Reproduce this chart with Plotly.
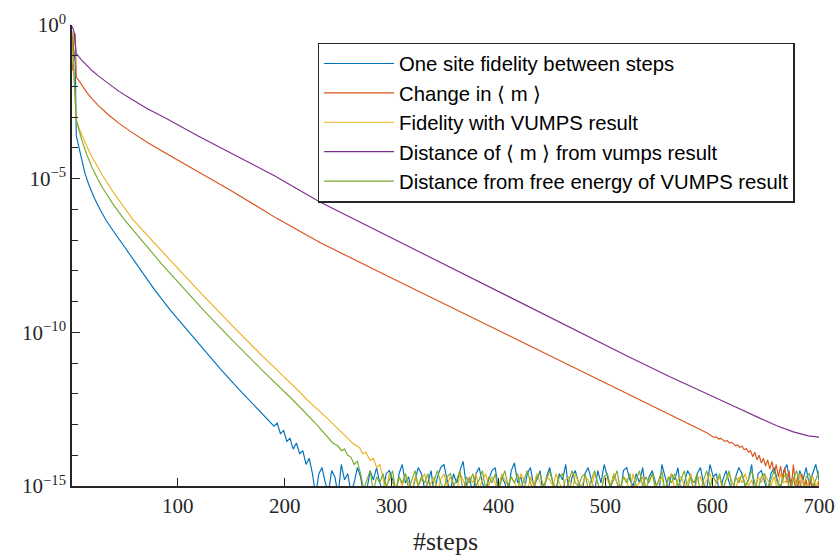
import plotly.graph_objects as go

# ---------------- data (log10 of the plotted quantity) ----------------
# One site fidelity between steps (blue)
blue_steps = [1, 2, 3, 4, 5, 6, 8, 10, 13, 17, 22, 27, 33, 40, 50, 65, 78, 93, 110, 125, 140, 157,
              168, 176, 184, 190, 193, 196, 199, 202, 205, 208, 211, 214, 217, 220, 223, 226]
blue_log = [-0.35, -0.7, -1.0, -1.2, -3.6, -3.75, -4.12, -4.43, -4.81, -5.22, -5.64, -5.99, -6.36,
            -6.72, -7.22, -7.96, -8.6, -9.28, -9.98, -10.6, -11.2, -11.85, -12.25, -12.55, -12.81,
            -13.05, -12.95, -13.3, -13.2, -13.55, -13.45, -13.8, -13.6, -13.95, -13.85, -14.3,
            -14.1, -14.6]
blue_floor_steps = list(range(229, 701, 3))
blue_floor_log = [
    -15.3, -14.6, -14.4, -14.9, -15.2, -14.5, -14.7, -15.3, -14.3, -14.8,
    -14.6, -15.2, -14.9, -14.4, -14.7, -15.3, -15.1, -14.5, -14.8, -14.4,
    -14.9, -15.2, -14.6, -14.5, -14.8, -15.3, -14.6, -14.3, -14.9, -14.7,
    -15.2, -14.8, -14.4, -14.6, -15.1, -14.9, -14.5, -15.3, -14.7, -14.4,
    -14.3, -14.8, -15.2, -14.6, -14.9, -14.5, -14.2, -15.0, -14.7, -15.3,
    -14.6, -14.4, -14.9, -15.2, -14.8, -14.5, -14.4, -15.1, -14.7, -14.9,
    -15.3, -14.5, -14.25, -14.9, -14.7, -15.2, -14.6, -14.4, -15.0, -14.8,
    -14.5, -15.3, -14.7, -14.4, -14.9, -15.1, -14.6, -14.8, -14.3, -15.2,
    -14.7, -14.5, -14.9, -15.3, -14.6, -14.4, -14.8, -15.2, -14.5, -14.9,
    -14.3, -14.7, -15.1, -14.6, -14.9, -15.3, -14.5, -14.4, -14.8, -15.0,
    -14.6, -14.9, -14.4, -15.2, -14.7, -14.5, -14.9, -15.3, -14.3, -14.7,
    -15.1, -14.6, -14.8, -14.4, -15.3, -14.9, -14.5, -14.7, -15.2, -14.6,
    -14.4, -14.9, -15.1, -14.3, -14.7, -14.6, -15.3, -14.8, -14.5, -14.9,
    -15.2, -14.7, -14.4, -14.6, -15.0, -14.8, -14.3, -15.3, -14.6, -14.5,
    -14.9, -15.2, -14.6, -14.4, -14.8, -15.1, -14.5, -14.3, -14.9, -14.7,
    -15.2, -14.5, -14.8, -14.4, -15.0, -14.6, -14.3, -14.8]

# Change in <m> (orange)
orange_steps = [1, 2, 3, 4, 5, 10, 15, 20, 25, 35, 45, 56, 72, 88, 119, 150, 193, 233, 300,
                350, 400, 457, 477, 520, 560, 595]
orange_log = [-1.5, -1.2, -0.25, -0.3, -1.69, -1.96, -2.2, -2.41, -2.6, -2.92, -3.2, -3.47, -3.83,
              -4.16, -4.78, -5.39, -6.3, -7.08, -8.23, -9.08, -9.94, -10.92, -11.26, -11.99,
              -12.67, -13.27]
orange_tail_steps = list(range(600, 701, 2))
orange_tail_log = [
    -13.38, -13.42, -13.4, -13.47, -13.45, -13.5, -13.55, -13.52, -13.6, -13.58,
    -13.62, -13.7, -13.66, -13.75, -13.7, -13.82, -13.78, -13.9, -13.85, -14.05,
    -13.9, -14.15, -14.0, -14.25, -14.1, -14.35, -14.15, -14.45, -14.2, -14.6,
    -14.3, -14.7, -14.35, -14.8, -14.4, -14.9, -14.5, -15.1, -14.3, -15.0,
    -14.7, -15.2, -14.6, -15.1, -14.8, -15.3, -14.7, -15.2, -14.9, -15.3, -14.8]

# Fidelity with VUMPS result (yellow)
yellow_steps = [1, 2, 3, 4, 5, 8, 10, 15, 20, 25, 30, 40, 50, 58, 70, 86, 100, 119, 150, 180, 214,
                221, 240, 255, 264, 270, 273, 276, 280, 283, 286, 289]
yellow_log = [-0.5, -1.2, -2.0, -2.6, -3.1, -3.39, -3.56, -3.96, -4.31, -4.63, -4.92, -5.46, -5.95,
              -6.33, -6.79, -7.39, -7.92, -8.63, -9.75, -10.8, -11.94, -12.2, -12.8, -13.3, -13.62,
              -13.75, -13.95, -13.9, -14.17, -14.1, -14.4, -14.3]
yellow_floor_steps = list(range(292, 701, 3))
yellow_floor_log = [
    -14.8, -15.2, -14.6, -14.9, -15.1, -14.7, -15.0, -14.6, -14.9, -15.2,
    -14.7, -15.0, -14.8, -14.6, -15.1, -14.9, -14.7, -15.2, -14.8, -14.6,
    -15.0, -14.7, -14.9, -15.2, -14.6, -14.8, -15.1, -14.7, -14.9, -14.6,
    -15.1, -14.8, -14.6, -15.0, -14.7, -14.9, -15.2, -14.6, -14.8, -15.0,
    -14.7, -14.9, -15.1, -14.6, -14.8, -15.2, -14.7, -15.0, -14.6, -14.9,
    -15.2, -14.7, -14.8, -15.0, -14.6, -14.9, -15.1, -14.8, -14.7, -15.2,
    -14.6, -14.9, -15.0, -14.7, -14.8, -15.1, -14.6, -14.9, -15.2, -14.7,
    -14.8, -15.0, -14.6, -14.9, -15.1, -14.7, -14.8, -15.2, -14.6, -15.0,
    -14.9, -14.7, -15.1, -14.8, -14.6, -15.0, -14.9, -14.7, -15.2, -14.8,
    -14.6, -15.1, -14.8, -14.7, -15.0, -14.9, -14.6, -15.2, -14.8, -14.7,
    -15.0, -14.8, -14.6, -15.1, -14.9, -14.7, -15.2, -14.8, -14.6, -14.9,
    -15.1, -14.7, -14.9, -14.6, -15.0, -14.8, -15.2, -14.7, -14.9, -14.6,
    -14.8, -15.0, -14.7, -15.1, -14.6, -14.9, -14.8, -15.2, -14.7, -15.0,
    -14.6, -14.9, -15.1, -14.8, -14.7, -15.0, -14.8]

# Distance of <m> from vumps result (purple)
purple_steps = [1, 2, 3, 4, 5, 10, 15, 20, 25, 35, 45, 56, 72, 88, 119, 150, 190, 233, 300, 350,
                400, 458, 478, 520, 560, 582, 620, 645, 660, 676, 690, 700]
purple_log = [-0.05, -0.12, -0.25, -0.55, -0.93, -1.14, -1.32, -1.49, -1.64, -1.91, -2.16, -2.4,
              -2.73, -3.02, -3.61, -4.17, -4.9, -5.76, -6.93, -7.8, -8.68, -9.69, -10.04, -10.76,
              -11.44, -11.8, -12.4, -12.8, -13.03, -13.24, -13.37, -13.41]

# Distance from free energy of VUMPS result (green)
green_steps = [1, 2, 3, 4, 5, 8, 10, 15, 20, 25, 30, 40, 50, 60, 71, 85, 107, 124, 150, 180, 208,
               214, 230, 245, 250, 253, 256, 259, 262, 265, 268]
green_log = [-0.2, -0.8, -1.6, -2.4, -3.1, -3.5, -3.73, -4.23, -4.65, -5.0, -5.32, -5.86, -6.33,
             -6.75, -7.2, -7.78, -8.63, -9.28, -10.22, -11.27, -12.21, -12.43, -13.0, -13.6, -13.7,
             -13.85, -13.8, -14.0, -14.06, -14.3, -14.2]
green_floor_steps = list(range(271, 701, 3))
green_floor_log = [
    -14.6, -15.1, -14.8, -14.5, -15.2, -14.7, -14.9, -14.6, -15.0, -14.8,
    -14.5, -15.2, -14.7, -14.9, -14.6, -15.1, -14.8, -14.5, -15.0, -14.7,
    -14.9, -14.6, -15.2, -14.8, -14.5, -14.9, -15.1, -14.7, -14.6, -15.0,
    -14.8, -14.5, -15.2, -14.7, -14.9, -14.6, -15.0, -14.8, -14.5, -15.1,
    -14.7, -14.9, -14.6, -15.2, -14.8, -14.5, -15.0, -14.7, -14.9, -14.6,
    -15.1, -14.8, -14.5, -14.9, -15.2, -14.7, -14.6, -15.0, -14.8, -14.5,
    -14.9, -15.1, -14.7, -14.6, -15.2, -14.8, -14.5, -14.9, -15.0, -14.7,
    -14.6, -15.1, -14.8, -14.5, -14.9, -15.2, -14.7, -14.6, -15.0, -14.8,
    -14.5, -15.1, -14.7, -14.9, -14.6, -15.2, -14.8, -14.5, -15.0, -14.7,
    -14.9, -14.6, -15.1, -14.8, -14.5, -15.2, -14.7, -14.9, -14.6, -15.0,
    -14.8, -14.5, -15.1, -14.7, -14.9, -14.6, -15.2, -14.8, -14.5, -15.0,
    -14.7, -14.9, -14.6, -15.1, -14.8, -14.5, -15.2, -14.7, -14.9, -14.6,
    -15.0, -14.8, -14.5, -14.9, -15.1, -14.7, -14.6, -15.2, -14.8, -14.5,
    -14.9, -15.0, -14.7, -14.6, -15.2, -14.8, -14.5, -14.9, -15.1, -14.7,
    -14.6, -15.0, -14.8, -14.5]

series_names = [
    "One site fidelity between steps",
    "Change in \u27e8 m \u27e9",
    "Fidelity with VUMPS result",
    "Distance of \u27e8 m \u27e9 from vumps result",
    "Distance from free energy of VUMPS result",
]
series_colors = ["#0072BD", "#D95319", "#EDB120", "#7E2F8E", "#77AC30"]

x_ticks = [100, 200, 300, 400, 500, 600, 700]
y_major = [1e0, 1e-5, 1e-10, 1e-15]
y_major_text = ["10<sup>0</sup>", "10<sup>\u22125</sup>", "10<sup>\u221210</sup>", "10<sup>\u221215</sup>"]
y_minor = [10.0 ** -k for k in range(1, 15) if k % 5 != 0]

series = [
    (blue_steps + blue_floor_steps, blue_log + blue_floor_log),
    (orange_steps + orange_tail_steps, orange_log + orange_tail_log),
    (yellow_steps + yellow_floor_steps, yellow_log + yellow_floor_log),
    (purple_steps, purple_log),
    (green_steps + green_floor_steps, green_log + green_floor_log),
]

AX = "#262626"
SERIF = "Liberation Serif, DejaVu Serif, serif"
fig = go.Figure()
for (xs, ls), name, col in zip(series, series_names, series_colors):
    fig.add_trace(go.Scatter(
        x=xs, y=[10.0 ** v for v in ls], mode="lines", name=name,
        line=dict(color=col, width=1.15),
    ))

fig.update_layout(
    width=836, height=556,
    margin=dict(l=72, r=17, t=25, b=70),
    paper_bgcolor="white", plot_bgcolor="white",
    showlegend=True,
    legend=dict(
        x=0.329, y=0.962, xanchor="left", yanchor="top",
        bgcolor="white", bordercolor=AX, borderwidth=1.3,
        font=dict(family="Liberation Sans, Arial, sans-serif", size=20.3, color="black"),
        itemwidth=70, tracegroupgap=0,
    ),
)
fig.update_xaxes(
    range=[1, 700], showgrid=False, zeroline=False, automargin=False,
    showline=True, linecolor=AX, linewidth=1.5, mirror=False,
    ticks="inside", ticklen=8, tickwidth=1.2, tickcolor=AX,
    tickvals=x_ticks,
    tickfont=dict(family=SERIF, size=21, color=AX),
    title=dict(text="#steps", standoff=16,
               font=dict(family=SERIF, size=26, color=AX)),
)
fig.update_yaxes(
    type="log", range=[-15, 0], showgrid=False, zeroline=False, automargin=False,
    showline=True, linecolor=AX, linewidth=1.5, mirror=False,
    ticks="inside", ticklen=8, tickwidth=1.2, tickcolor=AX,
    tickvals=y_major, ticktext=y_major_text,
    tickfont=dict(family=SERIF, size=21, color=AX),
    minor=dict(tickvals=y_minor, ticks="inside", ticklen=6, tickwidth=1.2, tickcolor=AX, showgrid=False),
)

# remove the default page margin so the 836x556 figure fills the window exactly
fig.write_html(
    "out.html",
    config={"displayModeBar": False},
    post_script="document.body.style.margin='0';document.body.style.overflow='hidden';",
)
